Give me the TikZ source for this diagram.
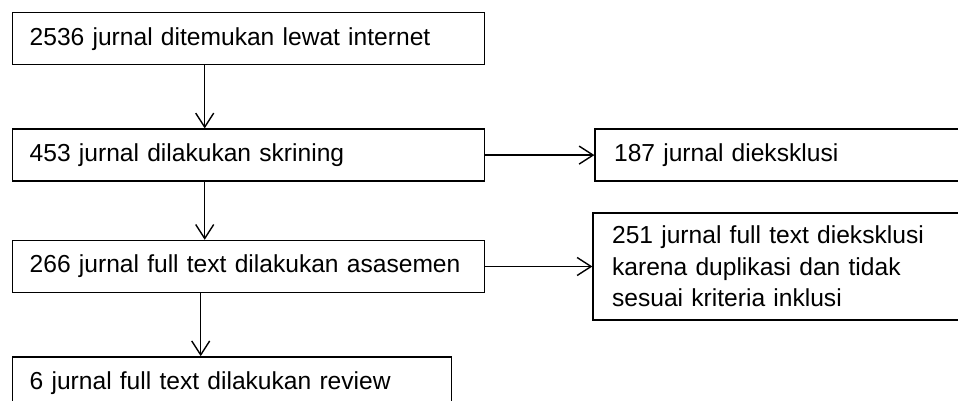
\documentclass[tikz,border=0pt]{standalone}
\usepackage{fontspec}
\setmainfont{Liberation Sans}
\usetikzlibrary{arrows.meta, positioning}

\begin{document}
\begin{tikzpicture}[
        node distance=63pt and 109pt,
        stage/.style={rectangle, draw, line width=1.4pt, inner xsep=17pt, inner ysep=0pt, minimum height=52pt, text width=438pt, align=left, font=\fontsize{24.6}{31.5}\selectfont},
        excl/.style={stage, inner xsep=19pt, text width=400pt},
        arrow/.style={-{Straight Barb[length=14pt, width=18pt]}, line width=1.4pt}
    ]
        \useasboundingbox (0,0) rectangle (958pt,-401pt);

        % Main flow
        \node (found) [stage, anchor=north west] at (12pt,-12pt) {2536 jurnal ditemukan lewat internet};
        \node (screen) [stage, below=of found] {453 jurnal dilakukan skrining};
        \node (assess) [stage, below=58pt of screen] {266 jurnal full text dilakukan asasemen};
        \node (review) [stage, text width=405pt, below=63pt of assess.south west, anchor=north west] {6 jurnal full text dilakukan review};

        % Excluded
        \node (excl_screen) [excl, right=of screen] {187 jurnal dieksklusi};
        \node (excl_full) [excl, minimum height=107pt, right=107pt of assess] {251 jurnal full text dieksklusi\\ karena duplikasi dan tidak\\ sesuai kriteria inklusi};

        % Connections
        \draw [arrow] ([xshift=-44pt]found.south) -- ([xshift=-44pt]screen.north);
        \draw [arrow] ([xshift=-44pt]screen.south) -- ([xshift=-44pt]assess.north);
        \draw [arrow] ([xshift=-48pt]assess.south) -- ([xshift=-48pt]assess.south |- review.north);
        \draw [arrow] (screen) -- (excl_screen);
        \draw [arrow] (assess.east) -- (assess.east -| excl_full.west);

    \end{tikzpicture}
\end{document}
